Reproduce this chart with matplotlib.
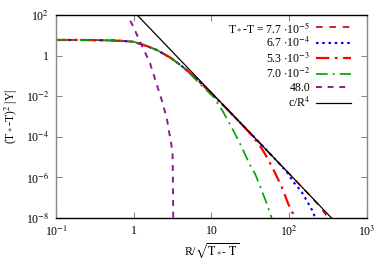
import numpy as np
import matplotlib.pyplot as plt
from matplotlib.ticker import FixedLocator, FixedFormatter, NullLocator

plt.rcParams['font.family'] = ['Liberation Serif', 'DejaVu Serif']
plt.rcParams['mathtext.fontset'] = 'stix'

# scaled curves, x = R/sqrt(T*-T), y = (T*-T)^2 |Y|
r_a = [0.1, 0.2, 0.3, 0.5, 0.7, 1.0, 1.5, 2.0, 3.0, 4.0, 5.0, 7.0, 10, 15, 20, 30,
       50, 70, 100, 150, 200, 250, 300, 330]
y_a = [5.9, 5.9, 5.8, 5.6, 5.3, 4.8, 2.9, 1.86, 0.77, 0.34, 0.168, 0.052, 0.0137,
       2.86e-3, 9.2e-4, 1.85e-4, 2.4e-5, 6.2e-6, 1.5e-6, 2.95e-7, 9.2e-8, 3.6e-8,
       1.35e-8, 8e-9]

r_b = [0.1, 0.2, 0.3, 0.5, 0.7, 1.0, 1.5, 2.0, 3.0, 4.0, 5.0, 7.0, 10, 15, 20, 30,
       50, 70, 93, 112, 144, 176, 200, 220]
y_b = [5.9, 5.9, 5.8, 5.6, 5.3, 4.8, 2.9, 1.86, 0.77, 0.34, 0.168, 0.052, 0.0137,
       2.86e-3, 9.2e-4, 1.85e-4, 2.4e-5, 6.2e-6, 1.9e-6, 6.2e-7, 2e-7, 5.2e-8,
       2.2e-8, 8e-9]

r_c = [0.1, 0.2, 0.3, 0.5, 0.7, 1.0, 1.5, 2.0, 3.0, 4.0, 5.0, 7.0, 10, 15, 20, 25,
       30, 38, 45, 54, 65, 80, 97, 112, 120]
y_c = [5.9, 5.9, 5.8, 5.6, 5.3, 4.8, 2.9, 1.86, 0.77, 0.34, 0.168, 0.052, 0.0137,
       2.86e-3, 9.2e-4, 3.8e-4, 1.8e-4, 6e-5, 2.4e-5, 7.2e-6, 1.8e-6, 3.4e-7,
       5e-8, 1.6e-8, 8e-9]

r_d = [0.1, 0.2, 0.3, 0.5, 0.7, 1.0, 1.5, 2.0, 3.0, 4.0, 5.0, 7.0, 10.5, 14, 19,
       24.4, 31.3, 36.4, 42, 51.3, 59.4, 62]
y_d = [5.9, 5.9, 5.8, 5.6, 5.3, 4.8, 2.9, 1.86, 0.77, 0.33, 0.16, 0.043, 9.5e-3,
       1.8e-3, 2.1e-4, 3.2e-5, 4e-6, 1.5e-6, 3.8e-7, 5.2e-8, 1e-8, 6e-9]

r_e = [0.75, 0.81, 0.94, 1.2, 1.62, 2.0, 2.29, 2.66, 2.87, 3.05, 3.16, 3.2, 3.22, 3.23]
y_e = [160, 100, 39, 5.1, 0.42, 0.033, 6.5e-3, 8.1e-4, 1.5e-4, 4e-5, 1.26e-5, 3e-7,
       1e-8, 5e-9]

c_fit = 150.0
r_pow = [0.9, 400]

labels = [r'T$_*$-T = 7.7 $\cdot$10$^{-5}$', r'6.7 $\cdot$10$^{-4}$',
          r'5.3 $\cdot$10$^{-3}$', r'7.0 $\cdot$10$^{-2}$', '48.0', r'c/R$^4$']

fig = plt.figure(figsize=(3.9, 2.73), dpi=100)
ax = fig.add_axes([0.1436, 0.2015, 0.7974, 0.7435])

ax.plot(r_a, y_a, color='#cc0000', lw=1.2, dashes=(4, 4), label=labels[0])
ax.plot(r_b, y_b, color='#0000ee', lw=1.5, dashes=(1.2, 1.8), label=labels[1])
ax.plot(r_c, y_c, color='#ff0000', lw=1.6, dashes=(6, 2.5, 1.2, 2.5), label=labels[2])
ax.plot(r_d, y_d, color='#00a000', lw=1.2, dashes=(7, 3, 1.2, 3), label=labels[3])
ax.plot(r_e, y_e, color='#8b1a8b', lw=1.4, dashes=(3, 3), label=labels[4])
ax.plot(r_pow, [c_fit / r**4 for r in r_pow], color='black', lw=0.9, label=labels[5])

ax.set_xscale('log')
ax.set_yscale('log')
ax.set_xlim(0.1, 1000)
ax.set_ylim(1e-8, 100)

xt = [0.1, 1, 10, 100, 1000]
yt = [1e-8, 1e-6, 1e-4, 1e-2, 1, 100]
ax.xaxis.set_major_locator(FixedLocator(xt))
ax.xaxis.set_major_formatter(FixedFormatter(['10$^{-1}$', '1', '10', '10$^2$', '10$^3$']))
ax.yaxis.set_major_locator(FixedLocator(yt))
ax.yaxis.set_major_formatter(FixedFormatter(['10$^{-8}$', '10$^{-6}$', '10$^{-4}$',
                                             '10$^{-2}$', '1', '10$^2$']))
ax.xaxis.set_minor_locator(NullLocator())
ax.yaxis.set_minor_locator(NullLocator())
ax.tick_params(which='major', direction='in', length=4, width=0.8, color='#888888',
               top=True, right=True, labelsize=8.5, pad=5)

for side in ['left', 'right']:
    ax.spines[side].set_color('#888888')
    ax.spines[side].set_linewidth(1.0)
for side in ['top', 'bottom']:
    ax.spines[side].set_color('black')
    ax.spines[side].set_linewidth(1.0)

ax.set_xlabel(r'R/$\sqrt{\mathrm{T_*\text{-}\ T}}$', fontsize=8.5, labelpad=1)
ax.set_ylabel(r'(T$_*$-T)$^2$ |Y|', fontsize=8.5, labelpad=4)

ax.legend(loc='upper right', bbox_to_anchor=(0.95, 0.97), frameon=False,
          markerfirst=False, fontsize=8.5, handlelength=3.0, handletextpad=0.5,
          labelspacing=0.1, borderaxespad=0, borderpad=0)

fig.savefig('out.png', dpi=100)
